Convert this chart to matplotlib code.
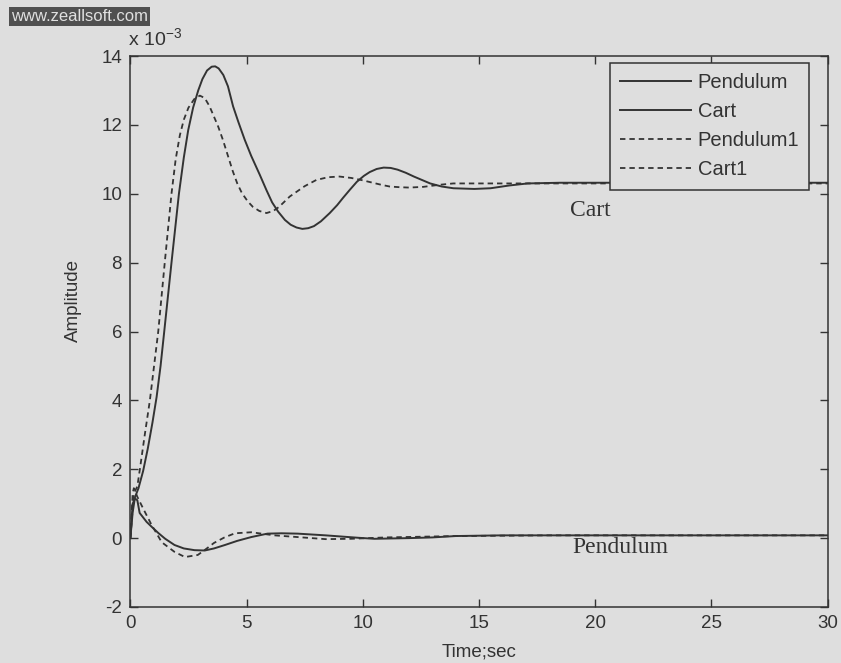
import numpy as np
import matplotlib.pyplot as plt

# Cart (solid)
t_cart = [0, 0.1, 0.2, 0.35, 0.55, 0.75, 0.95, 1.13, 1.3, 1.45, 1.77, 2.09, 2.3, 2.49, 2.7, 2.92, 3.1,
          3.3, 3.5, 3.65, 3.8, 4.0, 4.2, 4.42, 4.65, 4.92, 5.2, 5.57, 5.86, 6.1, 6.36, 6.65,
          6.9, 7.15, 7.4, 7.65, 7.9, 8.2, 8.58, 8.9, 9.15, 9.45, 9.75, 10.05, 10.3, 10.6, 10.9,
          11.2, 11.5, 11.85, 12.2, 12.55, 12.9, 13.4, 13.9, 14.8, 15.5, 16.3, 17.1, 18.5,
          20, 22, 24, 26, 28, 30]
cart = [0, 0.75, 1.19, 1.45, 1.95, 2.6, 3.35, 4.1, 5.0, 5.95, 8.0, 10.0, 11.05, 11.85, 12.5, 13.0, 13.33,
        13.58, 13.69, 13.7, 13.64, 13.45, 13.12, 12.54, 12.08, 11.57, 11.1, 10.55, 10.1, 9.75, 9.48, 9.24,
        9.1, 9.02, 8.98, 9.0, 9.06, 9.2, 9.44, 9.67, 9.88, 10.12, 10.35, 10.52, 10.63, 10.72, 10.76,
        10.75, 10.7, 10.61, 10.5, 10.4, 10.3, 10.21, 10.16, 10.14, 10.16, 10.24, 10.3, 10.32,
        10.32, 10.32, 10.32, 10.32, 10.32, 10.32]

# Cart1 (dashed)
t_cart1 = [0, 0.15, 0.3, 0.41, 0.62, 0.84, 1.2, 1.48, 1.77, 1.95, 2.13, 2.3, 2.5, 2.75,
           2.99, 3.2, 3.4, 3.56, 3.78, 3.98, 4.2, 4.41, 4.6, 4.8, 5.05, 5.27, 5.55, 5.86,
           6.15, 6.4, 6.86, 7.5, 8.0, 8.5, 9.0, 9.5, 10.0, 10.43, 10.8, 11.16, 11.6, 12.0,
           12.6, 13.3, 13.9, 15, 17, 20, 23, 26, 30]
cart1 = [0, 1.3, 1.5, 2.0, 3.0, 4.0, 6.0, 8.0, 10.0, 11.0, 11.7, 12.15, 12.5, 12.75,
         12.85, 12.78, 12.55, 12.3, 11.95, 11.57, 11.1, 10.65, 10.3, 10.02, 9.78, 9.62, 9.5, 9.44,
         9.5, 9.62, 9.92, 10.22, 10.4, 10.48, 10.5, 10.46, 10.39, 10.32, 10.26, 10.21, 10.19, 10.18,
         10.2, 10.26, 10.3, 10.3, 10.3, 10.3, 10.3, 10.3, 10.3]

# Pendulum (solid)
t_pend = [0, 0.1, 0.2, 0.3, 0.4, 0.55, 0.7, 0.93, 1.2, 1.5, 1.9, 2.3, 2.76, 3.2, 3.6,
          4.07, 4.6, 5.2, 5.9, 6.5, 7.2, 8.4, 9.8, 10.5, 12, 13, 14, 16, 20, 25, 30]
pend = [0, 1.0, 1.15, 1.1, 0.73, 0.6, 0.47, 0.32, 0.15, -0.02, -0.2, -0.3, -0.35, -0.36, -0.3,
        -0.2, -0.08, 0.03, 0.13, 0.14, 0.13, 0.08, 0.01, -0.02, 0.0, 0.02, 0.06, 0.08, 0.08, 0.08, 0.08]

# Pendulum1 (dashed)
t_pend1 = [0, 0.1, 0.15, 0.3, 0.55, 0.9, 1.35, 1.9, 2.35, 2.9, 3.25, 3.6, 4.05, 4.5, 5.2,
           6.2, 7.2, 8.4, 9.5, 11, 14, 18, 22, 26, 30]
pend1 = [0, 1.3, 1.45, 1.2, 0.86, 0.4, -0.12, -0.4, -0.55, -0.49, -0.32, -0.14, 0.02, 0.14, 0.17,
         0.08, 0.03, -0.03, -0.02, 0.02, 0.06, 0.08, 0.08, 0.08, 0.08]

xticks = [0, 5, 10, 15, 20, 25, 30]
yticks = [-2, 0, 2, 4, 6, 8, 10, 12, 14]

bg = '#dedede'
ink = '#333333'
plt.rcParams['font.family'] = ['Liberation Sans', 'DejaVu Sans']
plt.rcParams['axes.unicode_minus'] = False
plt.rcParams['mathtext.default'] = 'regular'

fig = plt.figure(figsize=(8.41, 6.63), dpi=100, facecolor=bg)
ax = fig.add_axes([0.155, 0.0845, 0.829, 0.831], facecolor=bg)

dash = (0, (3, 2.2))
ax.plot(t_pend, pend, color=ink, lw=1.4, label='Pendulum')
ax.plot(t_cart, cart, color=ink, lw=1.4, label='Cart')
ax.plot(t_pend1, pend1, color=ink, lw=1.3, ls=dash, label='Pendulum1')
ax.plot(t_cart1, cart1, color=ink, lw=1.3, ls=dash, label='Cart1')

ax.set_xlim(0, 30)
ax.set_ylim(-2, 14)
ax.set_xticks(xticks)
ax.set_yticks(yticks)
ax.tick_params(direction='in', top=True, right=True, length=6, width=1,
               labelsize=13.5, colors=ink, pad=6)
for s in ax.spines.values():
    s.set_color(ink)
    s.set_linewidth(1.1)

ax.set_xlabel('Time;sec', fontsize=13.5, color=ink)
ax.xaxis.set_label_coords(0.5, -0.082)
ax.xaxis.label.set_va('center')
ax.set_ylabel('Amplitude', fontsize=13.5, color=ink)
ax.yaxis.set_label_coords(-0.081, 0.556)
ax.yaxis.label.set_va('center')

ax.text(-0.003, 1.012, r'x 10$^{-3}$', transform=ax.transAxes, fontsize=14,
        color=ink, ha='left', va='bottom')

ax.text(19.8, 9.5, 'Cart', family='Liberation Serif', fontsize=17, color=ink,
        ha='center', va='center')
ax.text(21.1, -0.28, 'Pendulum', family='Liberation Serif', fontsize=17, color=ink,
        ha='center', va='center')

leg = ax.legend(loc='upper right', bbox_to_anchor=(0.974, 0.987), fontsize=14.5,
                frameon=True, fancybox=False, framealpha=1, facecolor=bg,
                edgecolor=ink, handlelength=3.5, handletextpad=0.35,
                labelspacing=0.5, borderpad=0.5, borderaxespad=0)
leg.get_frame().set_linewidth(1.1)
for txt in leg.get_texts():
    txt.set_color(ink)

fig.text(0.013, 0.975, 'www.zeallsoft.com', fontsize=12, color='#e0e0e0',
         ha='left', va='center',
         bbox=dict(boxstyle='square,pad=0.12', fc='#505050', ec='none'))

fig.savefig('out.png', dpi=100, facecolor=bg)
